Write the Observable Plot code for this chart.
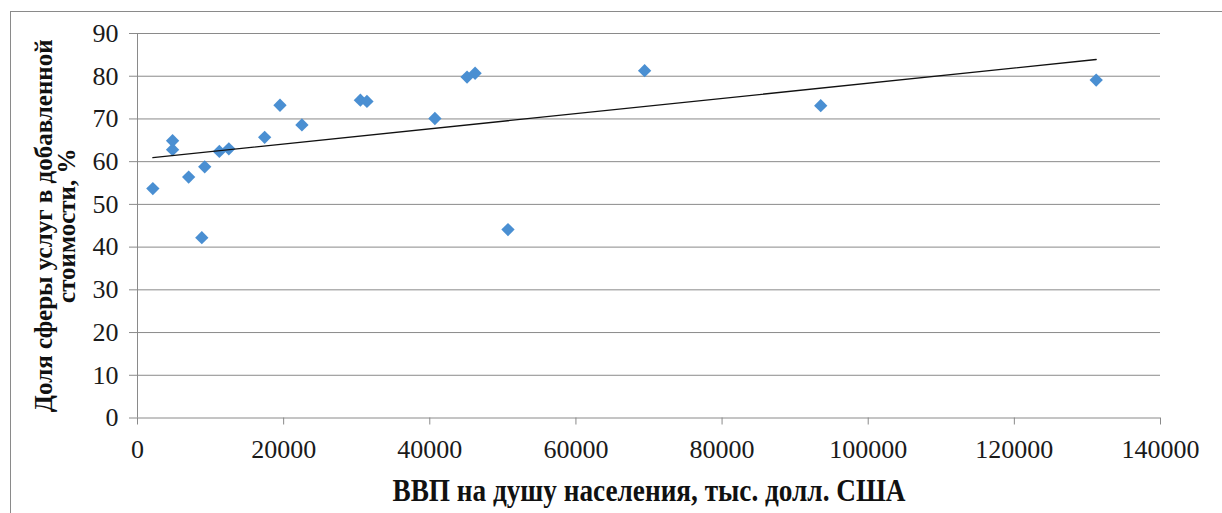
<!DOCTYPE html>
<html>
<head>
<meta charset="utf-8">
<script src="https://cdn.jsdelivr.net/npm/d3@7"></script>
<script src="https://cdn.jsdelivr.net/npm/@observablehq/plot@0.6"></script>
<style>
  html, body { margin: 0; padding: 0; background: #fff; overflow: hidden; }
  #wrap { position: relative; width: 1222px; height: 513px; overflow: hidden; }
  #border { position: absolute; left: 10px; top: 11px; width: 1400px; height: 700px;
            border-left: 1px solid #8a8a8a; border-top: 1px solid #8a8a8a; pointer-events: none; }
  #wrap svg, #wrap svg text { font-family: "Liberation Serif", "Times New Roman", serif !important; }
</style>
</head>
<body>
<div id="wrap"><div id="border"></div></div>
<script>
// GDP per capita (x) and services share in value added, % (y)
const gdp   = [2100, 4800, 4800, 7000, 9200, 8800, 11200, 12500, 17400, 19500, 22500, 30500, 31400, 40700, 45100, 46200, 50700, 69400, 93500, 131200];
const share = [53.7, 62.8, 64.9, 56.4, 58.8, 42.2, 62.4, 63.0, 65.7, 73.2, 68.6, 74.4, 74.1, 70.1, 79.8, 80.7, 44.1, 81.3, 73.1, 79.1];
const xTicks = [0, 20000, 40000, 60000, 80000, 100000, 120000, 140000];
const yTicks = [0, 10, 20, 30, 40, 50, 60, 70, 80, 90];
const xTitle = "ВВП на душу населения, тыс. долл. США";
const yTitle = "Доля сферы услуг в добавленной\nстоимости, %";

const data = gdp.map((g, i) => ({gdp: g, share: share[i]}));
const gridColor = "#8a8a8a";

const chart = Plot.plot({
  width: 1222,
  height: 513,
  marginLeft: 137,
  marginRight: 62,
  marginTop: 33,
  marginBottom: 95.5,
  style: {"font-family": "'Liberation Serif', 'Times New Roman', serif", "font-size": "26px", "color": "#1a1a1a", "background": "transparent"},
  x: {domain: [0, 140000], ticks: xTicks},
  y: {domain: [0, 90], ticks: yTicks},
  marks: [
    Plot.gridY(yTicks.filter(d => d > 0), {stroke: gridColor, strokeOpacity: 1, strokeWidth: 1}),
    Plot.axisY(yTicks, {tickSize: 8, tickPadding: 11, stroke: gridColor, fill: "#1a1a1a", fontSize: 26, label: null, tickFormat: d => String(d)}),
    Plot.axisX(xTicks, {tickSize: 7, tickPadding: 15, stroke: gridColor, fill: "#1a1a1a", fontSize: 26, label: null, tickFormat: d => String(d)}),
    Plot.ruleY([0], {stroke: gridColor, strokeWidth: 1}),
    Plot.ruleX([0], {stroke: gridColor, strokeWidth: 1}),
    Plot.dot(data, {x: "gdp", y: "share", symbol: "diamond2", r: 6, fill: "#4a8fd2", stroke: "none"}),
    Plot.linearRegressionY(data, {x: "gdp", y: "share", stroke: "#111", strokeWidth: 1.3, ci: 0}),
    Plot.text([xTitle], {frameAnchor: "bottom", dy: 73, textAnchor: "middle", lineAnchor: "middle", fontWeight: "bold", fontSize: 32, fill: "#111"}),
    Plot.text([yTitle], {frameAnchor: "left", dx: -81, rotate: -90, textAnchor: "middle", lineAnchor: "middle", lineHeight: 0.92, fontWeight: "bold", fontSize: 25, fill: "#111"})
  ]
});

document.getElementById("wrap").appendChild(chart);
chart.style.position = "absolute";
chart.style.left = "0px";
chart.style.top = "0px";

// condense x title to the reference's width
d3.select(chart).selectAll("text")
  .filter(function() { return this.textContent === xTitle; })
  .attr("textLength", 513).attr("lengthAdjust", "spacingAndGlyphs");
</script>
</body>
</html>
